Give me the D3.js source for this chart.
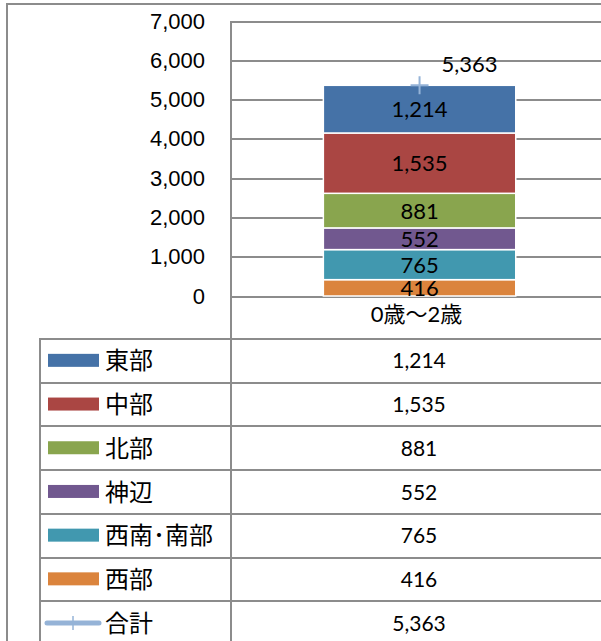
<!DOCTYPE html>
<html>
<head>
<meta charset="utf-8">
<script src="https://cdn.jsdelivr.net/npm/d3@7"></script>
<style>
  body { margin: 0; background: #fff; }
  svg { display: block; font-family: Lato, 'Noto Sans CJK JP', sans-serif; }
  .frame, .grid line, .table-line { stroke: #8c8c8c; stroke-width: 2; fill: none; shape-rendering: crispEdges; }
</style>
</head>
<body>
<svg id="chart"></svg>
<script>
'use strict';

var categories = ['0歳～2歳'];
var seriesNames = ['東部', '中部', '北部', '神辺', '西南･南部', '西部'];
var seriesColors = ['#4572a7', '#aa4643', '#89a54e', '#71588f', '#4198af', '#db843d'];
var seriesValues = [[1214], [1535], [881], [552], [765], [416]];
var totalName = '合計';
var totalValues = [5363];
var yTicks = [0, 1000, 2000, 3000, 4000, 5000, 6000, 7000];

var width = 601, height = 641;
var plot = { left: 231, right: 601, top: 21, bottom: 296 };
var table = { left: 40, mid: 231, top: 339, rowHeight: 43.7 };
var fmt = d3.format(',');

var svg = d3.select('#chart')
  .attr('width', width)
  .attr('height', height);

/* We build the rows used by the stack, one per category */
var rows = categories.map(function(c, i) {
  var row = { category: c };
  seriesNames.forEach(function(name, j) { row[name] = seriesValues[j][i]; });
  return row;
});

/* The stack goes from the last series (bottom) to the first one (top) */
var keys = seriesNames.slice().reverse();
var stacked = d3.stack().keys(keys)(rows);

var x = d3.scaleBand()
  .domain(categories)
  .range([plot.left, plot.right])
  .paddingInner(0.48)
  .paddingOuter(0.24)
  .align(0.52);

var y = d3.scaleLinear()
  .domain([0, 7000])
  .range([plot.bottom, plot.top]);

var color = d3.scaleOrdinal().domain(seriesNames).range(seriesColors);

/* Outer frame */
svg.append('path')
  .attr('class', 'frame')
  .attr('d', 'M7,' + height + 'V4H' + width);

/* Grid lines */
svg.append('g')
  .attr('class', 'grid')
  .attr('transform', 'translate(' + plot.left + ',0)')
  .call(d3.axisRight(y).tickValues(yTicks).tickSize(plot.right - plot.left).tickFormat(''))
  .call(function(g) { g.select('.domain').remove(); });

/* Y axis labels */
svg.append('g')
  .attr('transform', 'translate(' + plot.left + ',0)')
  .call(d3.axisLeft(y).tickValues(yTicks).tickSize(0).tickPadding(26).tickFormat(fmt))
  .call(function(g) {
    g.select('.domain').remove();
    g.selectAll('text')
      .attr('font-family', null)
      .attr('font-size', 22)
      .attr('fill', '#000');
  });

/* We append the bars */
var layer = svg.append('g').selectAll('g.layer')
  .data(stacked)
  .enter().append('g')
    .attr('class', 'layer');

layer.selectAll('rect')
  .data(function(d) { return d.map(function(p) { p.key = d.key; return p; }); })
  .enter().append('rect')
    .attr('x', function(d) { return x(d.data.category); })
    .attr('width', x.bandwidth())
    .attr('y', function(d) { return y(d[1]); })
    .attr('height', function(d) { return y(d[0]) - y(d[1]); })
    .attr('fill', function(d) { return color(d.key); })
    .attr('stroke', '#fff')
    .attr('stroke-width', 1.5);

layer.selectAll('text')
  .data(function(d) { return d.map(function(p) { p.key = d.key; return p; }); })
  .enter().append('text')
    .attr('x', function(d) { return x(d.data.category) + x.bandwidth() / 2; })
    .attr('y', function(d) { return (y(d[0]) + y(d[1])) / 2; })
    .attr('dy', '0.36em')
    .attr('text-anchor', 'middle')
    .attr('font-size', 22)
    .text(function(d) { return fmt(d.data[d.key]); });

/* Total marker and label */
var totals = svg.append('g').selectAll('g')
  .data(categories)
  .enter().append('g')
    .attr('transform', function(c, i) {
      return 'translate(' + (x(c) + x.bandwidth() / 2) + ',' + y(totalValues[i]) + ')';
    });

totals.append('path')
  .attr('d', 'M-9,0H9M0,-9V9')
  .attr('stroke', '#95b3d7')
  .attr('stroke-width', 2);

totals.append('text')
  .attr('x', 22)
  .attr('y', -13)
  .attr('font-size', 22)
  .text(function(c, i) { return fmt(totalValues[i]); });

/* Category label */
svg.append('g').selectAll('text')
  .data(categories)
  .enter().append('text')
    .attr('x', function(c) { return x(c) + x.bandwidth() / 2 - 3; })
    .attr('y', 322)
    .attr('text-anchor', 'middle')
    .attr('font-size', 22)
    .text(function(c) { return c; });

/* We generate the data table */
var tableRows = seriesNames.map(function(name, j) {
  return { name: name, value: seriesValues[j][0], total: false };
});
tableRows.push({ name: totalName, value: totalValues[0], total: true });

var t = svg.append('g');

t.append('path')
  .attr('class', 'table-line')
  .attr('d', 'M' + table.left + ',' + height + 'V' + table.top + 'H' + width +
    'M' + table.mid + ',' + plot.top + 'V' + height);

var tr = t.selectAll('g.row')
  .data(tableRows)
  .enter().append('g')
    .attr('class', 'row')
    .attr('transform', function(d, i) {
      return 'translate(0,' + (table.top + i * table.rowHeight) + ')';
    });

tr.filter(function(d, i) { return i > 0; })
  .append('line')
  .attr('class', 'table-line')
  .attr('x1', table.left)
  .attr('x2', width);

var mid = table.rowHeight / 2;

tr.filter(function(d) { return !d.total; })
  .append('rect')
    .attr('x', 48)
    .attr('y', mid - 7)
    .attr('width', 51)
    .attr('height', 13)
    .attr('fill', function(d) { return color(d.name); });

var legendTotal = tr.filter(function(d) { return d.total; });
legendTotal.append('line')
  .attr('x1', 47).attr('x2', 99)
  .attr('y1', mid).attr('y2', mid)
  .attr('stroke', '#95b3d7')
  .attr('stroke-width', 5)
  .attr('stroke-linecap', 'round');
legendTotal.append('line')
  .attr('x1', 73).attr('x2', 73)
  .attr('y1', mid - 7).attr('y2', mid + 7)
  .attr('stroke', '#95b3d7')
  .attr('stroke-width', 1.5);

tr.append('text')
  .attr('x', 105)
  .attr('y', mid)
  .attr('dy', '0.36em')
  .attr('font-size', 24)
  .text(function(d) { return d.name; });

tr.append('text')
  .attr('x', 419)
  .attr('y', mid)
  .attr('dy', '0.36em')
  .attr('text-anchor', 'middle')
  .attr('font-size', 21)
  .text(function(d) { return fmt(d.value); });
</script>
</body>
</html>
